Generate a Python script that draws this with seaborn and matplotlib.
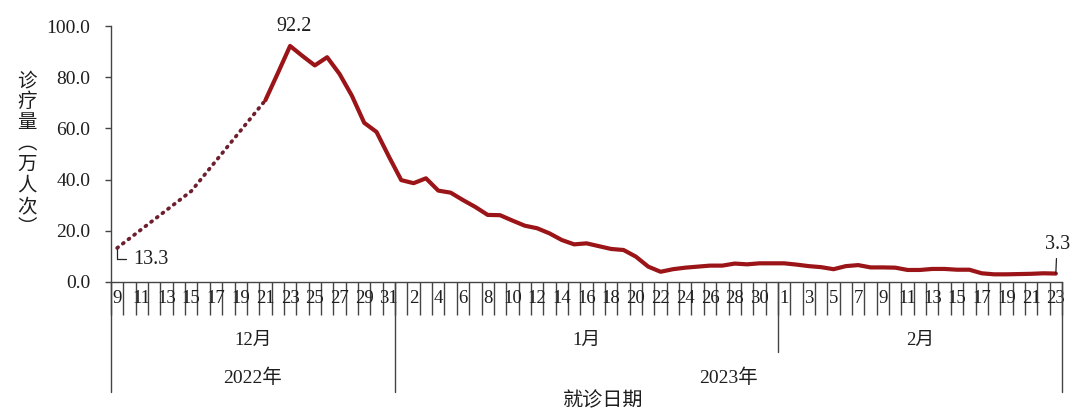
import numpy as np
import pandas as pd
import matplotlib
matplotlib.use("Agg")
import matplotlib.pyplot as plt
import matplotlib.transforms as mtransforms
import seaborn as sns

# ---------------- data ----------------
months = ["12月", "1月", "2月"]
month_days = [list(range(9, 32)), list(range(1, 32)), list(range(1, 24))]
years = ["2022年", "2023年"]
year_month_count = [1, 2]          # months belonging to each year

# dotted (estimated) segment: days of December and values
dotted_days = [9, 15, 21]
dotted_vals = [13.3, 35.5, 71.0]

# solid segment: Dec 21 .. Feb 23
solid_start_day = 21
solid_vals = [71.0, 81.5, 92.2, 88.3, 84.6, 87.8, 81.3, 72.8, 62.2, 58.6, 49.0,
              39.8, 38.6, 40.5, 35.7, 34.9, 32.0, 29.3, 26.2, 26.1, 24.0, 22.0,
              21.0, 19.0, 16.4, 14.7, 15.1, 14.0, 12.9, 12.5, 9.9, 6.0, 4.0,
              5.0, 5.6, 6.0, 6.4, 6.4, 7.2, 6.9, 7.3, 7.3,
              7.3, 6.8, 6.2, 5.8, 5.0, 6.2, 6.6, 5.7, 5.7, 5.6, 4.7, 4.7,
              5.1, 5.1, 4.8, 4.8, 3.4, 3.0, 3.0, 3.1, 3.2, 3.4, 3.3]

y_ticks = [0, 20, 40, 60, 80, 100]
y_label = "诊疗量（万人次）"
x_label = "就诊日期"

# ---------------- build frames ----------------
day_labels = [d for m in month_days for d in m]
n = len(day_labels)
idx = np.arange(n)
dotted_df = pd.DataFrame({"x": [month_days[0].index(d) for d in dotted_days],
                          "y": dotted_vals})
s0 = month_days[0].index(solid_start_day)
solid_df = pd.DataFrame({"x": idx[s0:s0 + len(solid_vals)], "y": solid_vals})

# ---------------- style ----------------
sns.set_theme(style="white")
plt.rcParams["font.family"] = ["Liberation Serif", "Noto Sans CJK SC", "DejaVu Sans"]
CJK = ["Noto Sans CJK SC", "DejaVu Sans"]
MIX = ["Liberation Serif", "Noto Sans CJK SC"]
TXT = "#1e1e1e"
LINE = "#9A1418"
AX = "#444444"

fig = plt.figure(figsize=(10.8, 4.19), dpi=100)
ax = fig.add_axes([111 / 1080, 1 - 282 / 419, (1062 - 111) / 1080, (282 - 26) / 419])

sns.lineplot(data=dotted_df, x="x", y="y", ax=ax, color="#6E1F2E", lw=2.7,
             linestyle=(0, (0.3, 1.6)), dash_capstyle="round")
sns.lineplot(data=solid_df, x="x", y="y", ax=ax, color=LINE, lw=3.0,
             solid_joinstyle="round")

ax.set_xlim(-0.5, n - 0.5)
ax.set_ylim(0, 100)
ax.set_xlabel("")
ax.set_ylabel("")

# y axis
ax.set_yticks(y_ticks)
ax.set_yticklabels([f"{v:.1f}" for v in y_ticks], fontsize=14, color=TXT,
                   family="Liberation Serif")
ax.tick_params(axis="y", direction="out", length=4, width=1, color=AX, pad=11, left=True)

# x axis: boundary ticks (major) and day labels (minor)
ax.set_xticks(np.arange(-0.5, n, 1.0))
ax.set_xticklabels([])
ax.tick_params(axis="x", which="major", direction="out", length=24, width=1,
               color=AX, bottom=True)
lab_idx = idx[::2]
ax.set_xticks(lab_idx, minor=True)
ax.set_xticklabels([str(day_labels[i]) for i in lab_idx], minor=True,
                   fontsize=13.5, color=TXT, family="Liberation Serif")
ax.tick_params(axis="x", which="minor", length=0, pad=6, bottom=True)

for s in ["top", "right"]:
    ax.spines[s].set_visible(False)
for s in ["left", "bottom"]:
    ax.spines[s].set_color(AX)
    ax.spines[s].set_linewidth(1)

# multi-level category separators and labels
trans = mtransforms.blended_transform_factory(ax.transData, ax.transAxes)
bounds = np.cumsum([0] + [len(m) for m in month_days]) - 0.5
year_bounds = [bounds[0]] + [bounds[c] for c in np.cumsum(year_month_count)]
for b in bounds:
    low = -0.43 if b in year_bounds else -0.273
    ax.plot([b, b], [0, low], transform=trans, color=AX, lw=1, clip_on=False)
for i, m in enumerate(months):
    ax.text((bounds[i] + bounds[i + 1]) / 2, -0.2266, m, transform=trans,
            ha="center", va="center", fontsize=13.5, color=TXT, family=MIX)
for i, y in enumerate(years):
    ax.text((year_bounds[i] + year_bounds[i + 1]) / 2, -0.375, y, transform=trans,
            ha="center", va="center", fontsize=14, color=TXT, family=MIX)
ax.text((603 - 111) / 951, -0.465, x_label, transform=ax.transAxes,
        ha="center", va="center", fontsize=14.5, color=TXT, family=CJK)

# vertical y label
vert = y_label.replace("（", "︵").replace("）", "︶")
fig.text(27 / 1080, 1 - 154 / 419, "\n".join(vert), ha="center", va="center",
         fontsize=14, color=TXT, family=CJK, linespacing=1.0)

# annotations
ax.annotate(f"{dotted_vals[0]:.1f}", xy=(dotted_df.x.iloc[0], dotted_vals[0]),
            xytext=(11.5, -8), textcoords="offset points", ha="left", va="center",
            fontsize=14.5, color=TXT, family="Liberation Serif",
            arrowprops=dict(arrowstyle="-", color="#222", lw=0.9, shrinkA=3, shrinkB=1,
                            connectionstyle="angle,angleA=0,angleB=90,rad=0"))
pk = int(np.argmax(solid_vals))
ax.annotate(f"{solid_vals[pk]:.1f}", xy=(solid_df.x.iloc[pk], solid_vals[pk]),
            xytext=(3, 14), textcoords="offset points", ha="center", va="center",
            fontsize=14.5, color=TXT, family="Liberation Serif")
ax.annotate(f"{solid_vals[-1]:.1f}", xy=(solid_df.x.iloc[-1], solid_vals[-1]),
            xytext=(1.5, 21), textcoords="offset points", ha="center", va="center",
            fontsize=14.5, color=TXT, family="Liberation Serif",
            arrowprops=dict(arrowstyle="-", color="#222", lw=0.9, shrinkA=1, shrinkB=0,
                            relpos=(0.45, 0.0)))

fig.savefig("out.png", dpi=100)
